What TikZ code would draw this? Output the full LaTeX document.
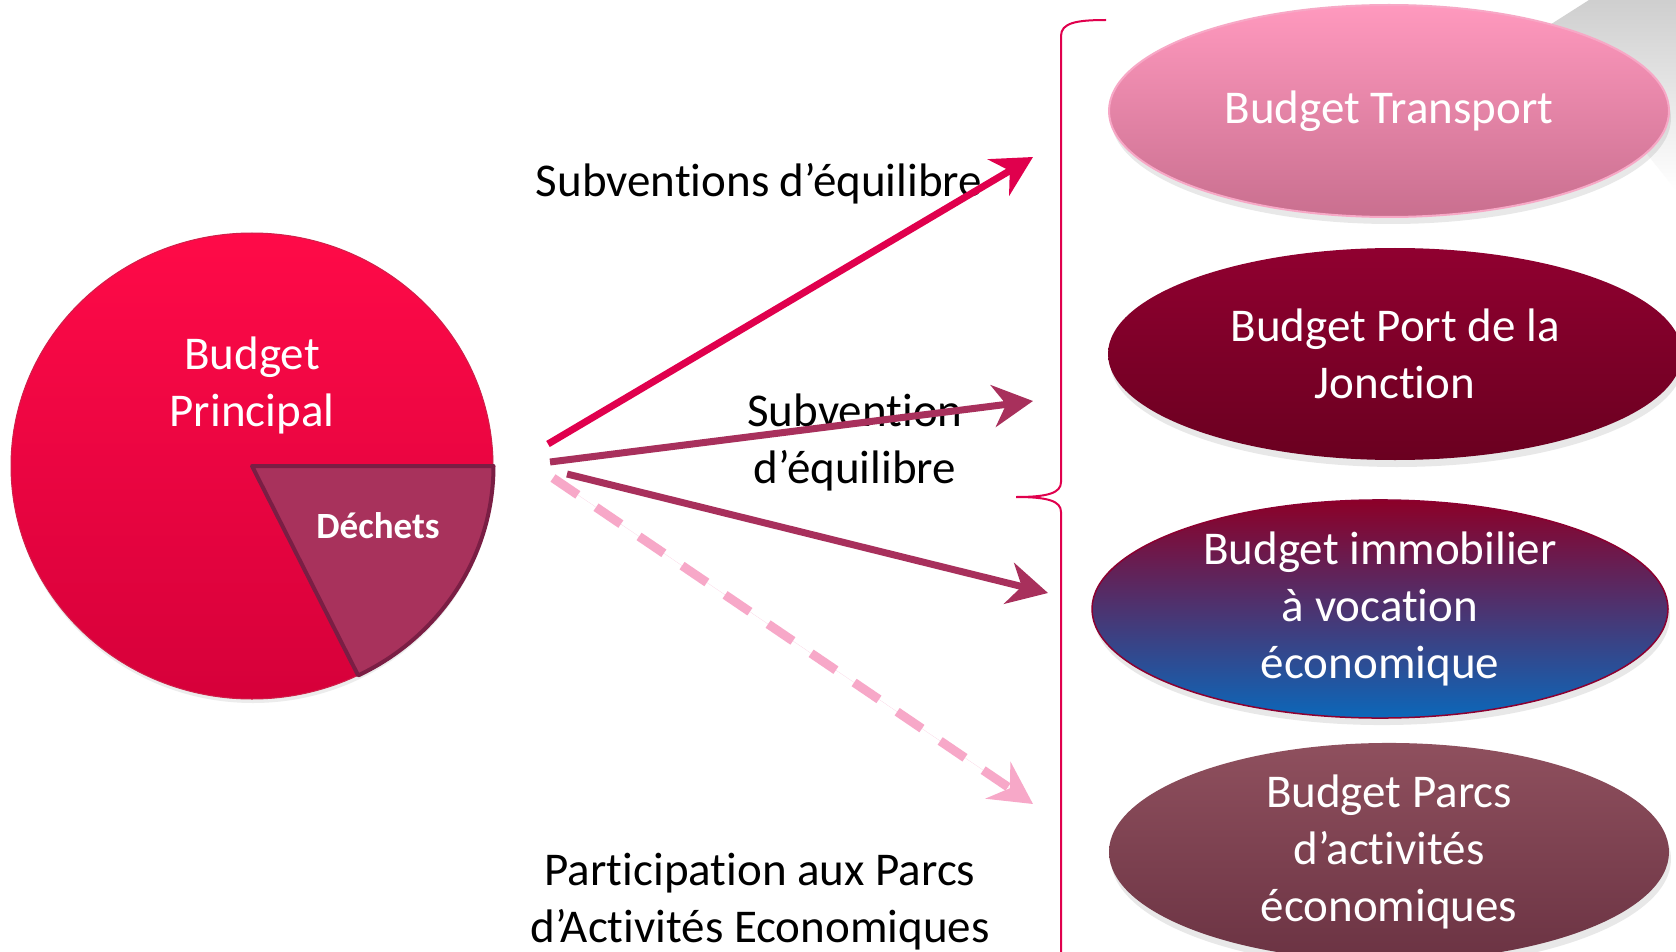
\documentclass[tikz,border=0pt]{standalone}
\usepackage{fontspec}
\setmainfont{Carlito}[RawFeature={-liga;-clig;-calt;-dlig;-hlig}]
\usetikzlibrary{arrows.meta,shapes.geometric,shadows}
\definecolor{crim}{HTML}{E0004D}
\definecolor{plum}{HTML}{A8305C}
\definecolor{pinkd}{HTML}{F7A8C8}
\definecolor{pieTop}{HTML}{FF0A48}
\definecolor{pieBot}{HTML}{D6003A}
\definecolor{pieEdge}{HTML}{D0204A}
\definecolor{wedgeFill}{HTML}{A8325C}
\definecolor{wedgeEdge}{HTML}{7A1E44}
\definecolor{tTop}{HTML}{FF99BE}
\definecolor{tBot}{HTML}{C96F8F}
\definecolor{tEdge}{HTML}{F7A8C6}
\definecolor{pTop}{HTML}{900030}
\definecolor{pBot}{HTML}{6A0020}
\definecolor{iTop}{HTML}{8C0028}
\definecolor{iMid}{HTML}{4E2E6A}
\definecolor{iBot}{HTML}{0C67B9}
\definecolor{iEdge}{HTML}{8C0030}
\definecolor{aTop}{HTML}{8F505E}
\definecolor{aBot}{HTML}{6B3343}
\begin{document}
\begin{tikzpicture}[x=1pt,y=-1pt,
  big/.style={font=\fontsize{47}{57}\selectfont, align=center, inner sep=0pt},
  bubble/.style={ellipse, inner sep=0pt, text=white, big,
     drop shadow={opacity=0.18, shadow xshift=2pt, shadow yshift=-7pt}},
  solidarrow/.style={line width=7pt, -{Stealth[length=40pt,width=42pt,inset=13pt]}},
  dasharrow/.style={line width=9pt, dash pattern=on 30pt off 22pt, -{Stealth[length=42pt,width=44pt,inset=14pt]}},
  bracestyle/.style={draw=crim, line width=2pt}
]
\useasboundingbox (0,0) rectangle (1676,952);
\fill[white] (0,0) rectangle (1676,952);

% grey corner
\shade[top color=gray!38, bottom color=white] (1589,0) -- (1676,0) -- (1676,190) -- (1545,28) -- cycle;

% ellipses
\node[bubble, minimum width=560pt, minimum height=212pt, top color=tTop, bottom color=tBot, draw=tEdge, line width=2pt] (transport) at (1389,111) {Budget Transport};
\node[bubble, minimum width=574pt, minimum height=212pt, top color=pTop, bottom color=pBot] (port) at (1395,354) {Budget Port de la\\Jonction};
\node[bubble, minimum width=576pt, minimum height=212pt, top color=iTop, middle color=iMid, bottom color=iBot, draw=iEdge, line width=1.5pt] (immo) at (1380,609) {Budget immobilier\\à vocation\\économique};
\node[bubble, minimum width=560pt, minimum height=212pt, top color=aTop, bottom color=aBot] (parcs) at (1389,852) {Budget Parcs\\d’activités\\économiques};

% brace
\draw[bracestyle] (1106,20) .. controls (1076,20) and (1061,23) .. (1061,36) -- (1061,482)
  .. controls (1061,493) and (1048,497) .. (1016,497)
  .. controls (1048,497) and (1061,501) .. (1061,512) -- (1061,960);

% pie
\node[ellipse, minimum width=482pt, minimum height=466pt, inner sep=0pt, top color=pieTop, bottom color=pieBot, draw=pieEdge, line width=1pt,
  drop shadow={opacity=0.15, shadow xshift=1pt, shadow yshift=-4pt}] (pie) at (252,466) {};
\filldraw[fill=wedgeFill, draw=wedgeEdge, line width=4pt, line join=round]
  (pie.center) -- (pie.east) arc[start angle=0, end angle=64, x radius=241, y radius=233] -- cycle;
\node[big, text=white] (bp) at (252,385) {Budget\\Principal};
\node[font=\fontsize{37}{44}\selectfont\bfseries, text=white, inner sep=0pt] (dech) at (378,526) {Déchets};

% labels
\node[big] (l1) at (759,184) {Subventions d’équilibre};
\node[big] (l2) at (855,442) {Subvention\\d’équilibre};
\node[big] (l3) at (760,902) {Participation aux Parcs\\d’Activités Economiques};

% arrows
\coordinate (s1) at (548,444); \coordinate (e1) at (1033,157);
\coordinate (s2) at (550,462); \coordinate (e2) at (1033,401);
\coordinate (s3) at (567,474); \coordinate (e3) at (1048,593);
\coordinate (s4) at (553,478); \coordinate (e4) at (1033,804);
\draw[solidarrow, draw=crim, fill=crim] (s1) -- (e1);
\draw[solidarrow, draw=plum, fill=plum] (s2) -- (e2);
\draw[solidarrow, draw=plum, fill=plum] (s3) -- (e3);
\draw[dasharrow, draw=pinkd, fill=pinkd] (s4) -- (e4);
\end{tikzpicture}
\end{document}
